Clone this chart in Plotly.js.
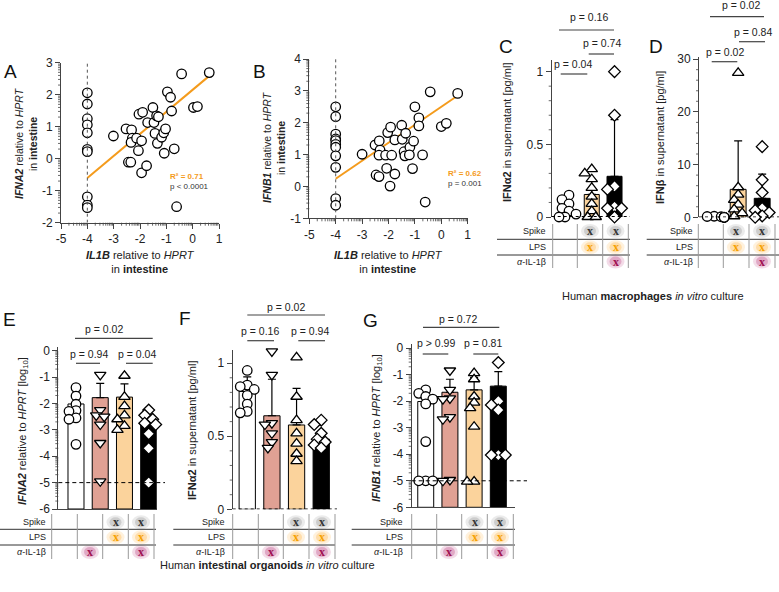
<!DOCTYPE html>
<html>
<head>
<meta charset="utf-8">
<script src="https://cdn.plot.ly/plotly-3.0.1.min.js"></script>
<style>html,body{margin:0;padding:0;background:#fff;}#chart{width:779px;height:592px;}</style>
</head>
<body>
<div id="chart"></div>
<script>
// ===================== DATA =====================
// Panel A: IL1B vs IFNA2 in intestine (log10 relative to HPRT)
const aIL1B = [-4,-4,-4,-4,-4,-4,-4,-4,-4,-4,
  -3.01,-2.53,-2.32,-2.29,-2.34,-2.13,-1.94,-2.06,-2.44,-2.35,-1.94,-1.75,-2.04,-1.90,-1.71,-1.51,-1.47,
  -1.43,-1.37,-1.30,-1.34,-1.18,-1.10,-1.03,-1.08,-0.70,-0.96,-0.84,-0.80,0.03,0.18,-0.42,0.63,-0.61];
const aIFNA2 = [2.06,1.71,1.25,1.06,0.81,0.29,0.22,-1.19,-1.45,-1.53,
  0.71,0.93,0.90,0.64,0.51,0.64,0.56,0.25,-0.11,-0.11,-0.44,-0.22,1.39,1.45,1.13,1.60,1.13,
  0.79,1.34,1.31,0.48,0.67,0.81,0.93,0.17,0.31,2.09,1.92,1.49,1.60,1.63,2.65,2.69,-1.5];
const aFitX = [-4, 0.62];
const aFitY = [-0.6, 2.58];
const aStats = ['R² = 0.71', 'p < 0.0001'];

// Panel B: IL1B vs IFNB1 in intestine
const bIL1B = [-4,-4,-4,-4,-4,-4,-4,-4,-4,-4,-4,
  -3.0,-2.51,-2.35,-2.32,-2.36,-2.47,-2.36,-2.11,-1.88,-2.07,-2.03,-1.92,-1.94,-1.76,-1.76,-1.50,-1.48,
  -1.35,-1.41,-1.38,-1.19,-1.21,-1.05,-1.09,-1.0,-0.85,-0.85,-0.71,-0.61,-0.42,0.0,0.19,0.62];
const bIFNB1 = [2.50,2.19,1.64,1.49,1.44,1.32,1.23,0.96,0.60,-0.38,-0.59,
  1.01,1.30,1.43,1.14,0.98,0.36,0.31,0.98,0.98,0.57,1.69,1.86,0.01,0.39,1.46,1.92,1.48,
  1.67,1.09,0.96,1.23,0.99,1.42,0.56,2.50,2.15,1.90,0.99,-0.49,2.97,1.88,1.98,2.92];
const bFitX = [-4, 0.6];
const bFitY = [0.24, 2.84];
const bStats = ['R² = 0.62', 'p = 0.001'];

// Panel C: IFNa2 in macrophage supernatant [pg/ml]
const cMock     = [0.15,0.12,0.09,0.06,0.04,0.02,0.0,0.0];
const cSpikeLPS = [0.33,0.30,0.26,0.20,0.14,0.09,0.04,0.0,0.0];
const cAll      = [1.0,0.70,0.21,0.19,0.07,0.06,0.06,0.0];
const cMean = [0.05, 0.155, 0.28];
const cSD   = [0.05, 0.10, 0.39];
const cP = ['p = 0.04', 'p = 0.74', 'p = 0.16'];

// Panel D: IFNb in macrophage supernatant [pg/ml]
const dMock     = [0.2,0.15,0.1,0.05,0.0,0.0,0.0,0.0];
const dSpikeLPS = [27.4,5.7,4.3,3.3,2.4,1.5,0.8,0.2];
const dAll      = [13.4,7.1,4.7,1.7,1.3,0.9,0.25,0.0];
const dMean = [0.06, 5.3, 3.6];
const dSD   = [0.05, 9.2, 4.6];
const dP = ['p = 0.02', 'p = 0.84', 'p = 0.02'];

// Panel E: IFNA2 relative to HPRT [log10], intestinal organoids
const eCtrl     = [-1.4,-1.72,-2.03,-2.27,-2.3,-2.55,-2.6,-3.55];
const eAnti     = [-0.92,-2.25,-2.45,-2.5,-2.8,-3.5,-4.95];
const eSpikeLPS = [-0.95,-1.75,-2.1,-2.45,-2.6,-2.85,-3.0];
const eAll      = [-2.25,-2.45,-2.6,-2.75,-2.8,-3.15,-3.7,-5.0];
const eMean = [-2.02,-1.78,-1.76,-2.78];
const eSD   = [0.30,0.54,0.50,0.28];
const eP = ['p = 0.02', 'p = 0.94', 'p = 0.04'];

// Panel F: IFNa2 in organoid supernatant [pg/ml]
const fCtrl     = [0.95,0.85,0.84,0.82,0.78,0.72,0.67,0.66];
const fAnti     = [1.08,0.92,0.59,0.58,0.52,0.46,0.42];
const fSpikeLPS = [1.04,0.77,0.61,0.52,0.45,0.38,0.33];
const fAll      = [0.61,0.58,0.52,0.48,0.46,0.44,0.42];
const fMean = [0.806,0.64,0.577,0.48];
const fSD   = [0.10,0.25,0.25,0.05];
const fP = ['p = 0.02', 'p = 0.16', 'p = 0.94'];

// Panel G: IFNB1 relative to HPRT [log10], intestinal organoids
const gCtrl     = [-1.57,-1.7,-1.82,-1.92,-2.1,-3.52,-5.0,-5.0,-5.0];
const gAnti     = [-0.84,-1.57,-1.89,-1.92,-2.6,-2.68,-4.97,-5.0];
const gSpikeLPS = [-0.94,-1.17,-1.82,-2.05,-2.26,-2.96,-5.03,-5.03];
const gAll      = [-0.54,-2.0,-2.14,-2.33,-4.03,-4.03,-4.03];
const gMean = [-2.01,-1.66,-1.57,-1.43];
const gSD   = [0.40,0.49,0.47,0.55];
const gP = ['p = 0.72', 'p > 0.99', 'p = 0.81'];

// Tick labels
const scatterXTicks = ['-5','-4','-3','-2','-1','0','1'];
const aYTicks = ['-2','-1','0','1','2','3'];
const bYTicks = ['-1','0','1','2','3','4'];
const cYTicks = ['0','0.5','1'];
const dYTicks = ['0','10','20','30'];
const logYTicks = ['-6','-5','-4','-3','-2','-1','0'];
const fYTicks = ['0','0.5','1'];

// Treatment table
const tableRows = ['Spike', 'LPS', '<i>α</i>-IL-1β'];
const macroMarks = [[0,1,1],[0,1,1],[0,0,1]];
const orgMarks   = [[0,0,1,1],[0,0,1,1],[0,1,0,1]];

// ===================== STYLE / LAYOUT =====================
const FONT = 'Liberation Sans, Arial, Helvetica, sans-serif';
const W = 779, H = 592;
const fx = p => p / W;
const fy = p => 1 - p / H;
const ORANGE = '#fbd39c', SALMON = '#e0a194', LINEORANGE = '#f49b1c';
const AXC = '#444';

const P = {
  A: {n:'',  px:[61,219],     py:[62.7,222.7], xr:[-5,1],          yr:[-2,3]},
  B: {n:'2', px:[309.3,467.7],py:[59,218.3],   xr:[-5,1],          yr:[-1,4]},
  C: {n:'3', px:[551.7,630],  py:[60,217],     xr:[-0.76,2.68],    yr:[0,1.08]},
  D: {n:'4', px:[699,779],    py:[57,217.3],   xr:[-0.63,2.7],     yr:[0,30.4]},
  E: {n:'5', px:[58.3,156.7], py:[346.7,509],  xr:[-0.73,3.33],    yr:[-6,0.15]},
  F: {n:'6', px:[232.7,337],  py:[350,509.3],  xr:[-0.59,3.64],    yr:[0,1.09]},
  G: {n:'7', px:[411.7,515],  py:[344,507.3],  xr:[-0.58,3.69],    yr:[-6,0.16]}
};
function logMinor(lo, hi){ const o=[]; for(let k=lo;k<hi;k++) for(let m=2;m<=9;m++) o.push(k+Math.log10(m)); return o; }
function linMinor(lo, hi, d, every){ const o=[]; const n=Math.round((hi-lo)/d); for(let i=0;i<=n;i++){ if(i%every!==0) o.push(lo+i*d); } return o; }
const baseAx = {showgrid:false, zeroline:false, showline:true, linecolor:AXC, linewidth:1,
  ticks:'outside', ticklen:5, tickwidth:1, tickcolor:AXC, fixedrange:true,
  tickfont:{family:FONT, size:12, color:'#222'}};
function ax(extra){ return Object.assign({}, baseAx, extra); }
function tickArr(t){ return {tickmode:'array', tickvals:t.map(Number), ticktext:t}; }

const layout = {width:W, height:H, margin:{l:0,r:0,t:0,b:0}, showlegend:false,
  paper_bgcolor:'#fff', plot_bgcolor:'rgba(0,0,0,0)', font:{family:FONT, color:'#222'},
  shapes:[], annotations:[]};

function setAxes(key, xExtra, yExtra){
  const p = P[key];
  layout['xaxis'+p.n] = ax(Object.assign({domain:[fx(p.px[0]), fx(p.px[1])], range:p.xr, anchor:'y'+p.n}, xExtra));
  layout['yaxis'+p.n] = ax(Object.assign({domain:[fy(p.py[1]), fy(p.py[0])], range:p.yr, anchor:'x'+p.n}, yExtra));
}
const barX = {showline:false, ticks:'', showticklabels:false};
const barXline = {showline:true, ticks:'', showticklabels:false};
setAxes('A', tickArr(scatterXTicks), tickArr(aYTicks));
setAxes('B', tickArr(scatterXTicks), tickArr(bYTicks));
setAxes('C', barX, tickArr(cYTicks));
setAxes('D', barX, tickArr(dYTicks));
setAxes('E', barXline, tickArr(logYTicks));
setAxes('F', barX, tickArr(fYTicks));
setAxes('G', barXline, tickArr(logYTicks));

const S = layout.shapes, A = layout.annotations;
// minor ticks drawn as short lines
function minorY(key, vals){
  const p = P[key];
  vals.forEach(v => S.push({type:'line', xref:'paper', yref:'y'+p.n, x0:fx(p.px[0]-3), x1:fx(p.px[0]), y0:v, y1:v,
    line:{color:AXC, width:0.8}}));
}
function minorX(key, vals){
  const p = P[key];
  vals.forEach(v => S.push({type:'line', xref:'x'+p.n, yref:'paper', x0:v, x1:v, y0:fy(p.py[1]), y1:fy(p.py[1]+3),
    line:{color:AXC, width:0.8}}));
}
minorX('A', logMinor(-5,1)); minorY('A', logMinor(-2,3));
minorX('B', logMinor(-5,1)); minorY('B', logMinor(-1,4));
minorY('C', linMinor(0, 1.0, 0.1, 5));
minorY('D', linMinor(0, 30, 2, 5));
minorY('E', logMinor(-6,0));
minorY('F', linMinor(0, 1.0, 0.1, 5));
minorY('G', logMinor(-6,0));

// ===================== TRACES =====================
const traces = [];
function axn(key){ const n=P[key].n; return {xaxis:'x'+n, yaxis:'y'+n}; }
function pts(key, xs, ys, symbol, size){
  traces.push(Object.assign({type:'scatter', mode:'markers', x:xs, y:ys, cliponaxis:false, hoverinfo:'skip',
    marker:{symbol:symbol, size:size, color:'#fff', line:{color:'#000', width:1.3}}}, axn(key)));
}
function swarm(key, vals){
  const p = P[key];
  const pxX = (p.px[1]-p.px[0])/(p.xr[1]-p.xr[0]);
  const pxY = (p.py[1]-p.py[0])/(p.yr[1]-p.yr[0]);
  const cands = [0,-4,4,-7,7,-10,10];
  const placed = [], offs = [];
  vals.forEach(v => {
    let chosen = cands[cands.length-1];
    for (const c of cands){
      if (placed.every(q => Math.hypot(c-q.o, (v-q.v)*pxY) >= 6)) { chosen = c; break; }
    }
    placed.push({o:chosen, v:v}); offs.push(chosen/pxX);
  });
  return offs;
}
function barPanel(key, groups, means, sds, colors, symbols, base){
  const idx = means.map((_,i)=>i);
  const bar = Object.assign({type:'bar', x:idx, y: base===undefined ? means : means.map(m=>m-base), width:0.66,
    marker:{color:colors, line:{color:'#000', width:1}}, hoverinfo:'skip'}, axn(key));
  if (base !== undefined) bar.base = base;
  traces.push(bar);
  traces.push(Object.assign({type:'scatter', mode:'markers', x:idx, y:means, cliponaxis:false, hoverinfo:'skip',
    marker:{size:2, opacity:0},
    error_y:{type:'data', symmetric:false, array:sds, arrayminus:sds.map(()=>0), color:'#000', thickness:1.2, width:4}}, axn(key)));
  groups.forEach((vals, g) => {
    const off = swarm(key, vals);
    pts(key, vals.map((v,i)=>g+off[i]), vals, symbols[g], symbols[g]==='circle'?9.5:(symbols[g]==='diamond'?9:10));
  });
}

// Scatter A and B
traces.push(Object.assign({type:'scatter', mode:'lines', x:aFitX, y:aFitY, line:{color:LINEORANGE, width:2}, hoverinfo:'skip'}, axn('A')));
pts('A', aIL1B, aIFNA2, 'circle', 9.5);
traces.push(Object.assign({type:'scatter', mode:'lines', x:bFitX, y:bFitY, line:{color:LINEORANGE, width:2}, hoverinfo:'skip'}, axn('B')));
pts('B', bIL1B, bIFNB1, 'circle', 9.5);

barPanel('C', [cMock,cSpikeLPS,cAll], cMean, cSD, ['#fff',ORANGE,'#000'], ['circle','triangle-up','diamond']);
barPanel('D', [dMock,dSpikeLPS,dAll], dMean, dSD, ['#fff',ORANGE,'#000'], ['circle','triangle-up','diamond']);
barPanel('E', [eCtrl,eAnti,eSpikeLPS,eAll], eMean, eSD, ['#fff',SALMON,ORANGE,'#000'], ['circle','triangle-down','triangle-up','diamond'], -6);
barPanel('F', [fCtrl,fAnti,fSpikeLPS,fAll], fMean, fSD, ['#fff',SALMON,ORANGE,'#000'], ['circle','triangle-down','triangle-up','diamond']);
barPanel('G', [gCtrl,gAnti,gSpikeLPS,gAll], gMean, gSD, ['#fff',SALMON,ORANGE,'#000'], ['circle','triangle-down','triangle-up','diamond'], -6);

// ===================== SHAPES & ANNOTATIONS =====================
function ann(text, x, y, opt){ A.push(Object.assign({text:text, x:fx(x), y:fy(y), xref:'paper', yref:'paper', showarrow:false,
  xanchor:'center', yanchor:'middle', font:{family:FONT, size:11, color:'#222'}}, opt||{})); }
function pline(x0,y0,x1,y1,color,width,dash){ S.push({type:'line', xref:'paper', yref:'paper', x0:fx(x0), x1:fx(x1), y0:fy(y0), y1:fy(y1),
  line:{color:color, width:width, dash:dash||'solid'}}); }

// Panel letters
[['A',10,72],['B',259,72],['C',506,46],['D',656,46],['E',9,319],['F',185,318],['G',370,320]].forEach(l =>
  ann(l[0], l[1], l[2], {font:{family:FONT, size:19, color:'#111'}}));

// Axis titles
ann('<b><i>IFNA2</i></b> relative to <i>HPRT</i><br>in <b>intestine</b>', 26, 143, {textangle:-90, font:{family:FONT,size:10.5,color:'#222'}});
ann('<b><i>IL1B</i></b> relative to <i>HPRT</i><br>in <b>intestine</b>', 140, 262, {font:{family:FONT,size:11,color:'#222'}});
ann('<b><i>IFNB1</i></b> relative to <i>HPRT</i><br>in <b>intestine</b>', 274, 147, {textangle:-90, font:{family:FONT,size:10.5,color:'#222'}});
ann('<b><i>IL1B</i></b> relative to <i>HPRT</i><br>in <b>intestine</b>', 388, 262, {font:{family:FONT,size:11,color:'#222'}});
ann('<b>IFNα2</b> in supernatant [pg/ml]', 507, 133, {textangle:-90});
ann('<b>IFNβ</b> in supernatant [pg/ml]', 660, 138, {textangle:-90});
ann('<b><i>IFNA2</i></b> relative to <i>HPRT</i> [log<sub>10</sub>]', 23, 431, {textangle:-90});
ann('<b>IFNα2</b> in supernatant [pg/ml]', 192, 431, {textangle:-90});
ann('<b><i>IFNB1</i></b> relative to <i>HPRT</i> [log<sub>10</sub>]', 377, 428, {textangle:-90});

// Regression stats
ann('<b>'+aStats[0]+'</b>', 168, 176, {xanchor:'left', font:{family:FONT,size:8,color:LINEORANGE}});
ann(aStats[1], 168, 186, {xanchor:'left', font:{family:FONT,size:8,color:'#333'}});
ann('<b>'+bStats[0]+'</b>', 446, 174, {xanchor:'left', font:{family:FONT,size:8,color:LINEORANGE}});
ann(bStats[1], 446, 184, {xanchor:'left', font:{family:FONT,size:8,color:'#333'}});

// Reference lines
S.push({type:'line', xref:'x', yref:'y', x0:-4, x1:-4, y0:-2, y1:3, line:{color:'#555', width:1, dash:'3px,3px'}});
S.push({type:'line', xref:'x2', yref:'y2', x0:-4, x1:-4, y0:-1, y1:4, line:{color:'#555', width:1, dash:'3px,3px'}});
[['C','y3'],['D','y4'],['F','y6']].forEach(k => {
  const p = P[k[0]];
  S.push({type:'line', xref:'paper', yref:k[1], x0:fx(p.px[0]), x1:fx(p.px[1]), y0:0, y1:0, line:{color:'#000', width:1.8, dash:'dot'}});
});
S.push({type:'line', xref:'paper', yref:'y5', x0:fx(58.3), x1:fx(165), y0:-5, y1:-5, line:{color:'#000', width:1, dash:'4px,3px'}});
S.push({type:'line', xref:'paper', yref:'y7', x0:fx(411.7), x1:fx(527), y0:-5, y1:-5, line:{color:'#000', width:1, dash:'4px,3px'}});

// p-value brackets: [textX, textY, lineX0, lineX1, lineY]
function brackets(texts, pos){
  texts.forEach((t,i) => {
    const b = pos[i];
    ann(t, b[0], b[1], {font:{family:FONT,size:10.5,color:'#222'}});
    pline(b[2], b[4], b[3], b[4], '#444', 1.2);
  });
}
brackets(cP, [[573,64,560.7,587.3,74],[601.7,43.3,588.7,614,54],[589,16.7,559,614,30]]);
brackets(dP, [[725,51.7,711.7,737.3,61.7],[752.7,31.7,739,765,41.7],[740.5,5,710,764,16.7]]);
brackets(eP, [[104,329.3,75,152.7,338.3],[89.3,354,76,100,363.3],[137.3,354,126,152.7,363.3]]);
brackets(fP, [[286,307.3,247.3,325,315],[260,330.7,247.3,274,340.7],[310,330.7,298.3,325,340.7]]);
brackets(gP, [[458.3,319.3,423,499.3,327.3],[436,343.3,422.7,448.3,354],[483.3,343.3,473.3,498.3,354]]);

// Treatment tables
const markStyle = [
  {txt:'#333',    glow:'128,128,128'},
  {txt:'#f5a000', glow:'255,170,40'},
  {txt:'#9e1050', glow:'180,40,110'}
];
function table(t, marks){
  tableRows.forEach((r,i) => ann(r, t.labelRight, t.rowY[i], {xanchor:'right', font:{family:FONT,size:9,color:'#222'}}));
  t.hLines.forEach(h => pline(t.xl, h, t.xr, h, '#333', 1));
  t.vLines.forEach(v => pline(v, t.yTop, v, t.yBot, '#999', 1));
  marks.forEach((row, r) => row.forEach((m, c) => {
    if (!m) return;
    const cx = t.colX[c], cy = t.rowY[r], st = markStyle[r];
    S.push({type:'circle', xref:'paper', yref:'paper', layer:'below', x0:fx(cx-9), x1:fx(cx+9), y0:fy(cy+7), y1:fy(cy-7),
      fillcolor:'rgba('+st.glow+',0.16)', line:{width:0}});
    S.push({type:'circle', xref:'paper', yref:'paper', layer:'below', x0:fx(cx-6), x1:fx(cx+6), y0:fy(cy+5), y1:fy(cy-5),
      fillcolor:'rgba('+st.glow+',0.28)', line:{width:0}});
    ann('<b>x</b>', cx, cy, {font:{family:'Liberation Serif, Times New Roman, serif', size:12, color:st.txt}});
  }));
}
const macroRows = {rowY:[231,247.3,261.5], hLines:[239.3,255], yTop:224, yBot:268};
const orgRows = {rowY:[522.3,537.3,552], hLines:[529.3,545], yTop:514, yBot:559};
table(Object.assign({labelRight:548, xl:497, xr:630, vLines:[552.7,577.3,602.7,628.3], colX:[565,590,615.5]}, macroRows), macroMarks);
table(Object.assign({labelRight:695, xl:646.7, xr:779, vLines:[698.3,723.3,749,775], colX:[710.8,736,762]}, macroRows), macroMarks);
table(Object.assign({labelRight:47.7, xl:0, xr:156, vLines:[51.7,77.3,102.7,128.3,154], colX:[64.5,90,115.5,141]}, orgRows), orgMarks);
table(Object.assign({labelRight:226.7, xl:173.3, xr:335, vLines:[232.7,258.3,283.3,309,335], colX:[245.5,270.8,296,322]}, orgRows), orgMarks);
table(Object.assign({labelRight:405, xl:351.7, xr:515, vLines:[411.7,436.7,461.7,487.3,513.3], colX:[424,449,474.5,500]}, orgRows), orgMarks);

// Captions
ann('Human <b>macrophages</b> <i>in vitro</i> culture', 653, 296, {font:{family:FONT,size:11,color:'#222'}});
ann('Human <b>intestinal organoids</b> <i>in vitro</i> culture', 267, 565, {font:{family:FONT,size:11,color:'#222'}});

Plotly.newPlot('chart', traces, layout, {staticPlot:true, displayModeBar:false});
</script>
</body>
</html>
